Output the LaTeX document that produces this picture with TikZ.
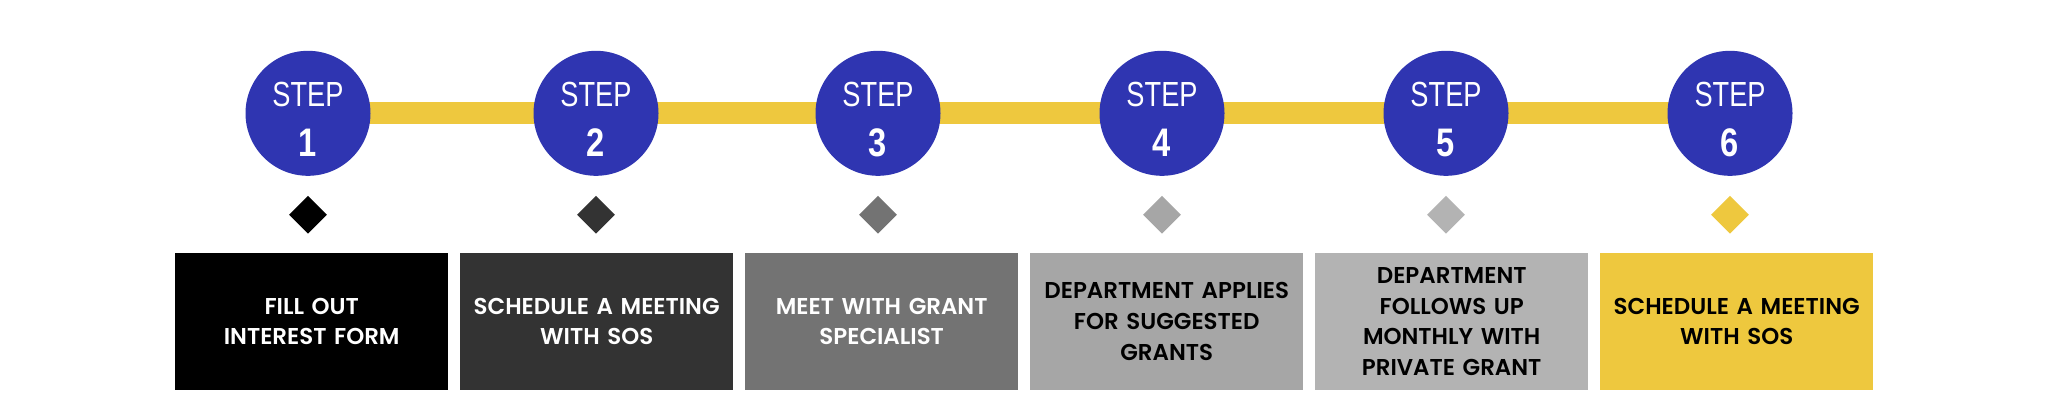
\documentclass[tikz,border=0pt]{standalone}
\usepackage{fontspec}
\usepackage{graphicx}
\setmainfont{Poppins}[UprightFont={* SemiBold}]
\newfontfamily\stepfont{Liberation Sans}
\usetikzlibrary{shapes.geometric,backgrounds}
\definecolor{stepblue}{HTML}{2F35B1}
\definecolor{stepyellow}{HTML}{EEC83E}
\definecolor{gA}{HTML}{000000}
\definecolor{gB}{HTML}{333333}
\definecolor{gC}{HTML}{737373}
\definecolor{gD}{HTML}{A6A6A6}
\definecolor{gE}{HTML}{B3B3B3}
\tikzset{
  stepcircle/.style={circle, fill=stepblue, minimum size=125bp, inner sep=0pt},
  steplabel/.style={text=white, inner sep=0pt, anchor=base, font=\stepfont\fontsize{35}{35}\selectfont},
  stepnum/.style={text=white, inner sep=0pt, anchor=base, font=\stepfont\bfseries\fontsize{40}{40}\selectfont},
  marker/.style={diamond, aspect=1, minimum size=38bp, inner sep=0pt},
  infobox/.style={rectangle, minimum width=272.7bp, minimum height=137.3bp, inner sep=0pt,
    text width=268bp, align=center, font=\fontsize{23}{30.7}\selectfont},
  bar/.style={stepyellow, line width=22bp}
}
\begin{document}
\begin{tikzpicture}[x=1bp,y=-1bp]
\useasboundingbox (0,0) rectangle (2048,415);
\foreach \i/\cx/\bx/\col/\txtcol/\txt in {
  1/308/311.7/gA/white/{FILL OUT\\INTEREST FORM},
  2/596/596.7/gB/white/{SCHEDULE A MEETING\\WITH SOS},
  3/878/881.7/gC/white/{MEET WITH GRANT\\SPECIALIST},
  4/1162/1166.7/gD/black/{DEPARTMENT APPLIES\\FOR SUGGESTED\\GRANTS},
  5/1446/1451.7/gE/black/{DEPARTMENT\\FOLLOWS UP\\MONTHLY WITH\\PRIVATE GRANT},
  6/1730/1736.7/stepyellow/black/{SCHEDULE A MEETING\\WITH SOS}}{
  \node[stepcircle] (s\i) at (\cx,113.3) {};
  \node[steplabel] (t\i) at (\cx,106.7) {\scalebox{0.78}[1]{STEP}};
  \node[stepnum] (n\i) at (\cx,156) {\scalebox{0.82}[1]{\i}};
  \node[marker, fill=\col] (d\i) at (\cx,214.7) {};
  \node[infobox, fill=\col, text=\txtcol] (b\i) at (\bx,321.4) {\txt};
}
\begin{scope}[on background layer]
  \fill[white] (0,0) rectangle (2048,415);
  \draw[bar] (s1.center) -- (s2.center);
  \draw[bar] (s2.center) -- (s3.center);
  \draw[bar] (s3.center) -- (s4.center);
  \draw[bar] (s4.center) -- (s5.center);
  \draw[bar] (s5.center) -- (s6.center);
\end{scope}
\end{tikzpicture}
\end{document}
